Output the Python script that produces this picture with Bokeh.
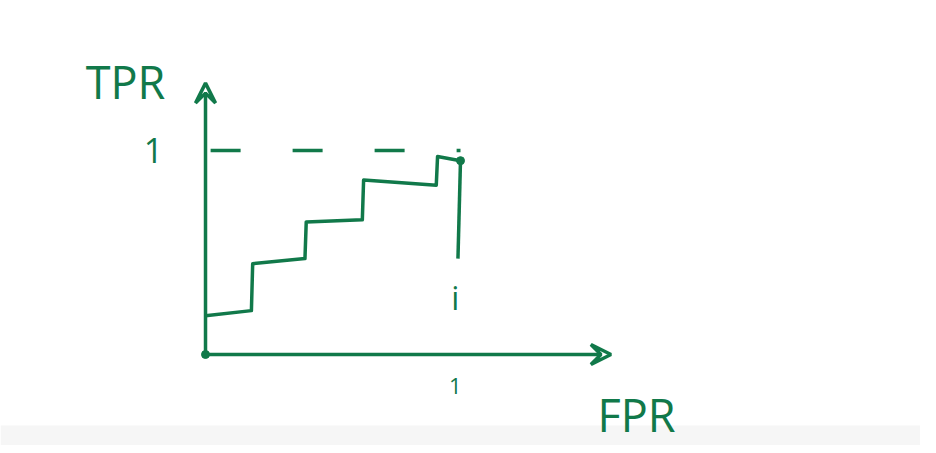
from bokeh.plotting import figure
from bokeh.models import Arrow, VeeHead, BoxAnnotation
from bokeh.core.properties import value
from bokeh.embed import file_html
from bokeh.resources import INLINE

# hand-drawn ROC staircase (FPR, TPR)
fpr_steps = [0.0, 0.18, 0.185, 0.39, 0.395, 0.615, 0.62, 0.905, 0.91, 1.0]
tpr_steps = [0.19, 0.215, 0.445, 0.47, 0.65, 0.66, 0.855, 0.83, 0.97, 0.95]

# dashed TPR = 1 guide and the drop line at FPR = 1
guide_x = [0.02, 1.0]
guide_y = [1.0, 1.0]
drop_x = [1.0, 0.99]
drop_y = [0.95, 0.47]

# axis extents (arrows)
x_axis_end = 1.59
y_axis_end = 1.33

# labels
axis_names = ["TPR", "FPR"]
name_x = [-0.47, 1.537]
name_y = [1.338, -0.294]
tick_labels = ["1", "1", "i"]
tick_x = [-0.204, 0.98, 0.98]
tick_y = [1.0, -0.152, 0.28]

green = "#11794a"

p = figure(width=920, height=445, x_range=(-0.804, 2.804), y_range=(-0.446, 1.735),
           output_backend="svg", toolbar_location=None, min_border=0)
p.axis.visible = False
p.grid.visible = False
p.outline_line_color = None
p.background_fill_color = "white"
p.border_fill_color = "white"

# faint grey band at the very bottom
p.add_layout(BoxAnnotation(bottom=0, top=20, bottom_units="screen", top_units="screen",
                           fill_color="#f6f6f6", fill_alpha=1.0, line_color=None,
                           level="underlay"))

# axes as arrows
p.add_layout(Arrow(end=VeeHead(size=20, line_color=green, line_width=3.5, fill_color=None),
                   x_start=0, y_start=0, x_end=x_axis_end, y_end=0,
                   line_color=green, line_width=3.5))
p.add_layout(Arrow(end=VeeHead(size=20, line_color=green, line_width=3.5, fill_color=None),
                   x_start=0, y_start=0, x_end=0, y_end=y_axis_end,
                   line_color=green, line_width=3.5))

p.line(guide_x, guide_y, line_color=green, line_width=3.5, line_dash="30 52")
p.line(fpr_steps, tpr_steps, line_color=green, line_width=3.5, line_join="round")
p.line(drop_x, drop_y, line_color=green, line_width=3.5)
p.scatter([0, fpr_steps[-1]], [0, tpr_steps[-1]], size=8, color=green)

p.text(name_x, name_y, text=axis_names, text_color=green, text_font=value("Open Sans"),
       text_font_size="45px", text_baseline="middle", text_align="left")
p.text(tick_x, tick_y, text=tick_labels, text_color=green, text_font=value("Open Sans"),
       text_font_size=["34px", "22px", "32px"], text_baseline="middle", text_align="center")

open("out.html", "w").write(file_html(p, INLINE))
